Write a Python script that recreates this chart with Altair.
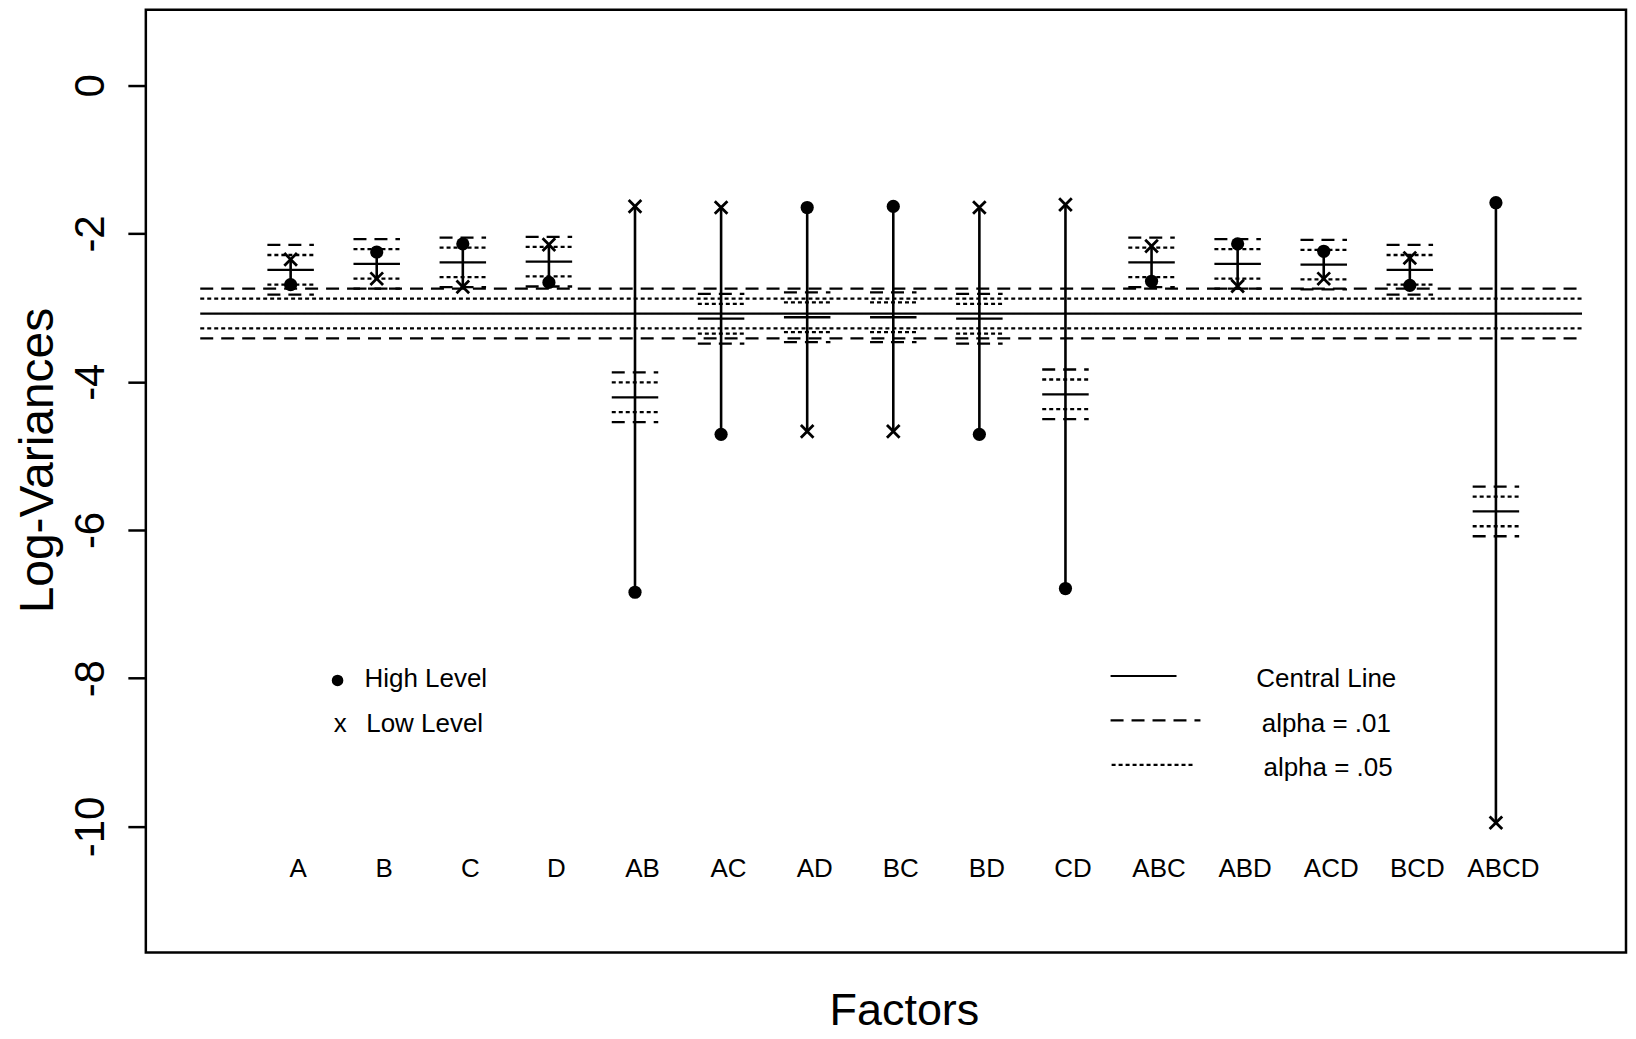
import altair as alt
import pandas as pd

# ---------------- data ----------------
factors = ["A", "B", "C", "D", "AB", "AC", "AD", "BC", "BD", "CD",
           "ABC", "ABD", "ACD", "BCD", "ABCD"]
high_level = [-2.69, -2.25, -2.14, -2.66, -6.84, -4.71, -1.65, -1.635, -4.71, -6.79,
              -2.645, -2.14, -2.24, -2.70, -1.585]
low_level = [-2.35, -2.61, -2.72, -2.15, -1.635, -1.65, -4.67, -4.67, -1.65, -1.61,
             -2.17, -2.71, -2.61, -2.33, -9.95]
factor_center = [-2.49, -2.41, -2.39, -2.38, -4.21, -3.15, -3.13, -3.13, -3.15, -4.17,
                 -2.39, -2.41, -2.42, -2.49, -5.75]
central_line = -3.08
half_width_05 = 0.20    # alpha = .05 limits (distance from central line)
half_width_01 = 0.335   # alpha = .01 limits
global_span = [-0.05, 16.0]
y_ticks = [0, -2, -4, -6, -8, -10]
line_kinds = ["Central Line", "alpha = .01", "alpha = .05"]

# ---------------- layout / style constants ----------------
FONT = "Liberation Sans"
BAR_HALF = 0.27
X_DOMAIN = [-0.682, 16.511]
Y_DOMAIN = [-11.70, 1.02]
W, H = 1482, 944

pos = list(range(1, len(factors) + 1))
pts = pd.DataFrame({"factor": factors, "pos": pos, "high": high_level,
                    "low": low_level, "center": factor_center})

def limit_rows(center, x0, x1):
    return [
        {"x0": x0, "x1": x1, "y": center, "kind": "Central Line"},
        {"x0": x0, "x1": x1, "y": center + half_width_01, "kind": "alpha = .01"},
        {"x0": x0, "x1": x1, "y": center - half_width_01, "kind": "alpha = .01"},
        {"x0": x0, "x1": x1, "y": center + half_width_05, "kind": "alpha = .05"},
        {"x0": x0, "x1": x1, "y": center - half_width_05, "kind": "alpha = .05"},
    ]

rows = limit_rows(central_line, global_span[0], global_span[1])
for p, c in zip(pos, factor_center):
    rows += limit_rows(c, p - BAR_HALF, p + BAR_HALF)
limits = pd.DataFrame(rows)

# legend placement (data coordinates)
leg_lines = pd.DataFrame([
    {"x0": 10.524, "x1": 11.29, "y": -7.97, "kind": "Central Line"},
    {"x0": 10.524, "x1": 11.568, "y": -8.57, "kind": "alpha = .01"},
    {"x0": 10.536, "x1": 11.51, "y": -9.17, "kind": "alpha = .05"},
])
leg_right_text = pd.DataFrame({"x": [13.03, 13.03, 13.05],
                               "y": [-8.12, -8.72, -9.32],
                               "t": line_kinds})
leg_left_text = pd.DataFrame({"x": [1.858, 1.878, 1.50],
                              "y": [-8.118, -8.724, -8.724],
                              "t": ["High Level", "Low Level", "x"]})
leg_dot = pd.DataFrame({"x": [1.545], "y": [-8.03]})

# ---------------- scales / axes ----------------
xs = alt.Scale(domain=X_DOMAIN, nice=False, zero=False)
ys = alt.Scale(domain=Y_DOMAIN, nice=False, zero=False)
label_expr = "[" + ",".join("'%s'" % f for f in factors) + "][datum.value - 1]"
xaxis = alt.Axis(values=pos, labelExpr=label_expr, grid=False, domain=False,
                 ticks=False, tickSize=0, labelPadding=-76, labelBaseline="alphabetic",
                 labelFontSize=26, labelFont=FONT, labelColor="black",
                 labelOverlap=False, labelFlush=False, labelOffset=7,
                 title="Factors", titleFont=FONT, titleFontSize=45,
                 titleFontWeight="normal", titleColor="black",
                 titleX=759, titleY=72, titleAlign="center",
                 titleBaseline="alphabetic")
yaxis = alt.Axis(values=y_ticks, grid=False, domain=False, ticks=True,
                 tickSize=18, tickWidth=2.5, tickColor="black",
                 labelExpr="datum.value < 0 ? '-' + abs(datum.value) : '' + datum.value",
                 labelAngle=-90, labelAlign="center", labelBaseline="alphabetic",
                 labelPadding=24, labelFontSize=42, labelFont=FONT,
                 labelColor="black", labelOverlap=False, labelFlush=False,
                 title="Log-Variances", titleFont=FONT, titleFontSize=48,
                 titleFontWeight="normal", titleColor="black", titleAngle=-90,
                 titleX=-93, titleY=451, titleAlign="center",
                 titleBaseline="alphabetic")

def X(f):
    return alt.X(f, type="quantitative", scale=xs, axis=xaxis)

def Y(f):
    return alt.Y(f, type="quantitative", scale=ys, axis=yaxis)

dash = alt.StrokeDash("kind:N", legend=None,
                      scale=alt.Scale(domain=line_kinds,
                                      range=[[1, 0], [13, 8], [4, 3]]))

lines = alt.Chart(limits).mark_rule(color="black", strokeWidth=2.3).encode(
    x=X("x0"), x2="x1", y=Y("y"), strokeDash=dash)

segments = alt.Chart(pts).mark_rule(color="black", strokeWidth=2.6).encode(
    x=X("pos"), y=Y("high"), y2="low")

high_pts = alt.Chart(pts).mark_point(shape="circle", filled=True, size=175,
                                     color="black", opacity=1).encode(
    x=X("pos"), y=Y("high"))

low_pts = alt.Chart(pts).mark_point(shape="M-1,-1L1,1M1,-1L-1,1", filled=False,
                                    size=160, stroke="black", strokeWidth=2.8,
                                    opacity=1).encode(
    x=X("pos"), y=Y("low"))

legend_lines = alt.Chart(leg_lines).mark_rule(color="black", strokeWidth=2.2).encode(
    x=X("x0"), x2="x1", y=Y("y"), strokeDash=dash)

legend_rtext = alt.Chart(leg_right_text).mark_text(
    font=FONT, fontSize=26, align="center", baseline="alphabetic",
    color="black").encode(x=X("x"), y=Y("y"), text="t:N")

legend_ltext = alt.Chart(leg_left_text).mark_text(
    font=FONT, fontSize=26, align="left", baseline="alphabetic",
    color="black").encode(x=X("x"), y=Y("y"), text="t:N")

legend_dot = alt.Chart(leg_dot).mark_point(shape="circle", filled=True, size=135,
                                           color="black", opacity=1).encode(
    x=X("x"), y=Y("y"))

chart = alt.layer(lines, segments, high_pts, low_pts, legend_lines,
                  legend_rtext, legend_ltext, legend_dot).properties(
    width=W, height=H,
    padding={"left": 138, "top": 1, "right": 2, "bottom": 85},
    autosize=alt.AutoSizeParams(type="none"),
    background="white",
).configure(
    font=FONT,
    view=alt.ViewConfig(stroke="black", strokeWidth=2.5),
)

chart.save("out.html", embed_options={"renderer": "svg", "actions": False})
